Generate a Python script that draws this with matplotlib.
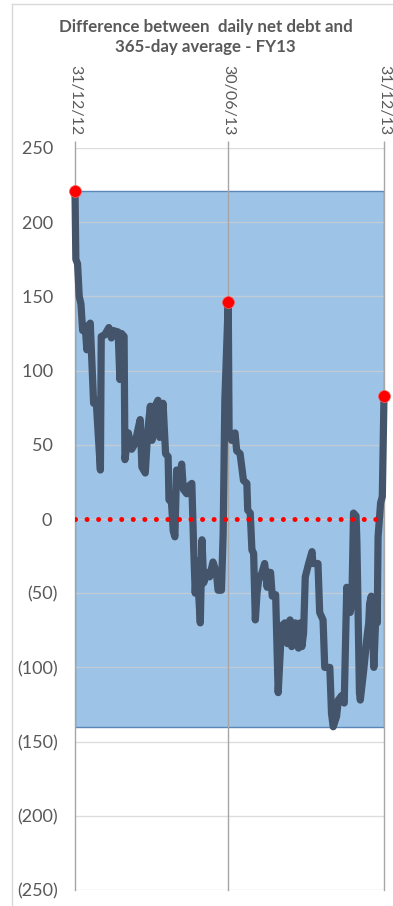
import matplotlib
matplotlib.use('Agg')
import matplotlib.pyplot as plt
import matplotlib.dates as mdates
from matplotlib.ticker import FuncFormatter, FixedLocator
from matplotlib.lines import Line2D
from datetime import datetime, timedelta

# Chart text
title_lines = ['Difference between  daily net debt and', '365-day average - FY13']

# Series: day offset from 31/12/12 and difference
start_date = datetime(2012, 12, 31)
day_offsets = [0, 1, 3, 5, 7, 9, 12, 14, 16, 18, 22, 25, 30, 31, 35, 40, 43, 45,
               51, 53, 55, 58, 59, 63, 67, 71, 75, 77, 79, 83, 86, 89, 91, 92,
               98, 100, 104, 107, 110, 111, 114, 116, 118, 120, 124, 126, 128,
               132, 134, 138, 140, 142, 144, 146, 148, 150, 152, 156, 159, 163,
               167, 169, 173, 175, 177, 181, 182, 185, 189, 191, 195, 199, 203,
               204, 207, 209, 211, 213, 215, 217, 221, 224, 227, 228, 231, 233,
               237, 240, 244, 248, 251, 254, 256, 260, 264, 266, 268, 270, 272,
               276, 280, 281, 287, 289, 293, 295, 301, 303, 305, 309, 311, 315,
               318, 321, 325, 327, 329, 332, 333, 336, 337, 341, 345, 347, 348,
               350, 353, 356, 357, 358, 361, 363, 365]
net_debt_diff = [221, 175, 172, 150, 145, 127, 130, 114, 130, 132, 78, 80, 33, 123,
                 124, 129, 122, 127, 126, 94, 125, 123, 40, 58, 47, 51, 62, 67, 35,
                 31, 60, 76, 53, 73, 80, 55, 78, 44, 42, 13, 11, -8, -12, 33, 28,
                 37, 20, 17, 22, 24, -16, -50, -28, -50, -70, -14, -43, -36, -39,
                 -29, -36, -48, -48, -10, 80, 146, 60, 53, 58, 46, 44, 26, 24, 6,
                 4, -21, -23, -68, -50, -41, -36, -30, -46, -36, -36, -52, -51,
                 -117, -72, -70, -84, -68, -86, -70, -87, -70, -86, -77, -39, -30,
                 -22, -30, -30, -63, -68, -100, -100, -131, -140, -133, -122, -119,
                 -124, -46, -63, -57, 4, 2, -16, -117, -122, -102, -79, -70, -57,
                 -52, -100, -55, -70, -12, 11, 15, 83]

# Highlighted days (start, half year, end)
highlight_offsets = [0, 181, 365]

# Axis ticks
tick_dates = [datetime(2012, 12, 31), datetime(2013, 6, 30), datetime(2013, 12, 31)]
tick_labels = ['31/12/12', '30/06/13', '31/12/13']
y_ticks = list(range(-250, 251, 50))

text_col = '#595959'
plt.rcParams['font.family'] = ['Lato', 'DejaVu Sans']

dates = [start_date + timedelta(days=d) for d in day_offsets]
lookup = dict(zip(day_offsets, net_debt_diff))
hl_dates = [start_date + timedelta(days=d) for d in highlight_offsets]
hl_vals = [lookup[d] for d in highlight_offsets]

fig = plt.figure(figsize=(3.93, 9.06), dpi=100)
ax = fig.add_axes([75 / 393, 1 - 890 / 906, (384 - 75) / 393, (890 - 148) / 906])

# blue band covering the range of the series
ax.axhspan(min(net_debt_diff), max(net_debt_diff), facecolor='#9dc3e6',
           edgecolor='#5b86b8', linewidth=1, zorder=1)

# horizontal gridlines on top of band (lighter inside)
for v in y_ticks:
    ax.axhline(v, color='#cfcfcf', lw=1, alpha=0.7, zorder=2)
for d in tick_dates:
    ax.axvline(d, color='#a6a6a6', lw=1, zorder=2, clip_on=False)

ax.plot(dates, net_debt_diff, color='#44546a', lw=5.2, solid_joinstyle='round',
        solid_capstyle='round', zorder=3, clip_on=False)

ax.axhline(0, color='red', lw=3.6, linestyle=(0, (0.01, 2.3)),
           dash_capstyle='round', zorder=4)

ax.plot(hl_dates, hl_vals, 'o', color='red', ms=8.6, mec='#ff6060', mew=0.5,
        zorder=5, clip_on=False)

ax.set_xlim(tick_dates[0], tick_dates[-1])
ax.set_ylim(-250, 250)

ax.xaxis.tick_top()
ax.xaxis.set_major_locator(FixedLocator(mdates.date2num(tick_dates)))
ax.set_xticklabels(tick_labels, rotation=-90, color=text_col, fontsize=11.5)
ax.tick_params(axis='x', length=5, width=1, color='#a6a6a6', pad=4)

ax.set_yticks(y_ticks)
ax.yaxis.set_major_formatter(FuncFormatter(
    lambda v, p: f'({abs(int(v))})' if v < 0 else f'{int(v)} '))
ax.tick_params(axis='y', length=0, pad=12.6, labelsize=13, labelcolor=text_col)

for s in ax.spines.values():
    s.set_visible(False)

# chart area border (left and top visible)
fig.add_artist(Line2D([12 / 393, 12 / 393], [0, 1 - 4 / 906], color='#d9d9d9', lw=1))
fig.add_artist(Line2D([12 / 393, 1], [1 - 4 / 906, 1 - 4 / 906], color='#d9d9d9', lw=1))

fig.text(0.523, 1 - 32 / 906, title_lines[0], ha='center', va='baseline',
         fontsize=12.2, fontweight='bold', color=text_col)
fig.text(0.523, 1 - 52 / 906, title_lines[1], ha='center', va='baseline',
         fontsize=12.2, fontweight='bold', color=text_col)

fig.savefig('out.png', dpi=100)
